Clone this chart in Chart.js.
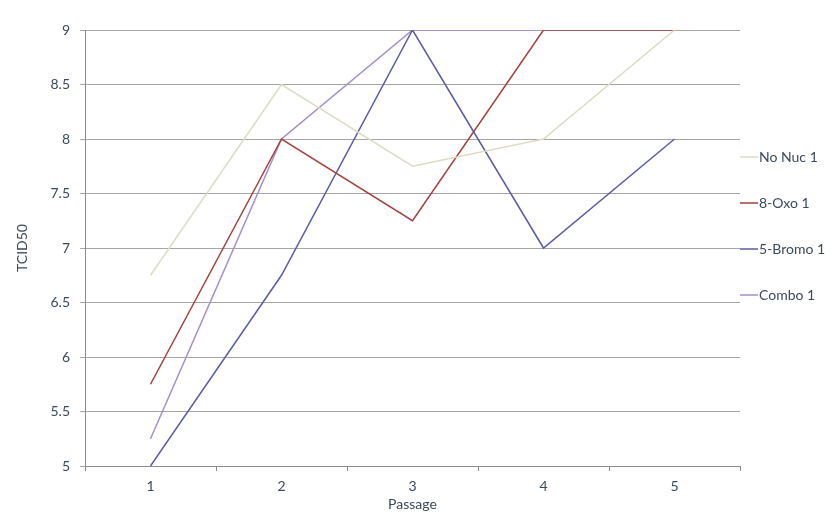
<!DOCTYPE html>
<html>
<head>
<meta charset="utf-8">
<script src="https://cdn.jsdelivr.net/npm/chart.js@4.4.1/dist/chart.umd.min.js"></script>
<style>
  html, body { margin: 0; padding: 0; background: #fff; }
  #wrap { width: 833px; height: 518px; position: relative; }
</style>
</head>
<body>
<div id="wrap"><canvas id="c" width="833" height="518"></canvas></div>
<script>
const categories = ['1', '2', '3', '4', '5'];
const seriesNames = ['No Nuc 1', '8-Oxo 1', '5-Bromo 1', 'Combo 1'];
const noNuc = [6.75, 8.5, 7.75, 8, 9];
const oxo = [5.75, 8, 7.25, 9, 9];
const bromo = [5, 6.75, 9, 7, 8];
const combo = [5.25, 8, 9, 9, 9];
const seriesColors = ['#dedbc3', '#a5403d', '#5b5ba8', '#a38fca'];
const yMin = 5, yMax = 9, yStep = 0.5;

const FONT = 'Lato, "Open Sans", "Liberation Sans", sans-serif';
const TEXT = '#3b4a5e';
const FS = 14;

const legendPlugin = {
  id: 'sideLegend',
  afterDraw(chart) {
    const ctx = chart.ctx;
    const x0 = chart.chartArea.right;
    const startY = 157, gap = 46;
    ctx.save();
    ctx.font = FS + 'px ' + FONT;
    ctx.textBaseline = 'middle';
    ctx.fillStyle = TEXT;
    chart.data.datasets.forEach((ds, i) => {
      const y = startY + i * gap;
      ctx.strokeStyle = ds.borderColor;
      ctx.lineWidth = 1.5;
      ctx.beginPath();
      ctx.moveTo(x0, y);
      ctx.lineTo(x0 + 18, y);
      ctx.stroke();
      ctx.fillText(ds.label, x0 + 19, y);
    });
    ctx.restore();
  }
};

const allSeries = [noNuc, oxo, bromo, combo];
new Chart(document.getElementById('c'), {
  type: 'line',
  data: {
    labels: categories,
    datasets: allSeries.map((d, i) => ({
      label: seriesNames[i],
      data: d,
      borderColor: seriesColors[i],
      backgroundColor: seriesColors[i],
      borderWidth: 1.5,
      pointRadius: 0,
      tension: 0,
      fill: false
    }))
  },
  options: {
    responsive: false,
    animation: false,
    layout: { padding: { top: 30, right: 93, left: 0, bottom: 0 } },
    plugins: {
      legend: { display: false },
      title: { display: false },
      tooltip: { enabled: false }
    },
    scales: {
      x: {
        offset: true,
        afterFit(s) { s.height = 52; },
        grid: {
          display: true,
          offset: true,
          drawOnChartArea: false,
          drawTicks: true,
          tickLength: 5,
          color: '#8c8c8c'
        },
        border: { display: true, color: '#8c8c8c', width: 1 },
        ticks: { color: TEXT, font: { size: FS, family: FONT }, padding: 7 },
        title: {
          display: true, text: 'Passage', color: TEXT,
          font: { size: FS, family: FONT }, padding: { top: 0, bottom: 5 }
        }
      },
      y: {
        min: yMin, max: yMax,
        afterFit(s) { s.width = 85; },
        grid: {
          color: '#a6a6a6',
          lineWidth: 1,
          drawTicks: true,
          tickLength: 5
        },
        border: { display: true, color: '#8c8c8c', width: 1 },
        ticks: {
          stepSize: yStep,
          color: TEXT,
          font: { size: FS, family: FONT },
          padding: 10,
          callback: v => String(+v)
        },
        title: {
          display: true, text: 'TCID50', color: TEXT,
          font: { size: FS, family: FONT }, padding: { top: 14, bottom: 0 }
        }
      }
    }
  },
  plugins: [legendPlugin]
});
</script>
</body>
</html>
